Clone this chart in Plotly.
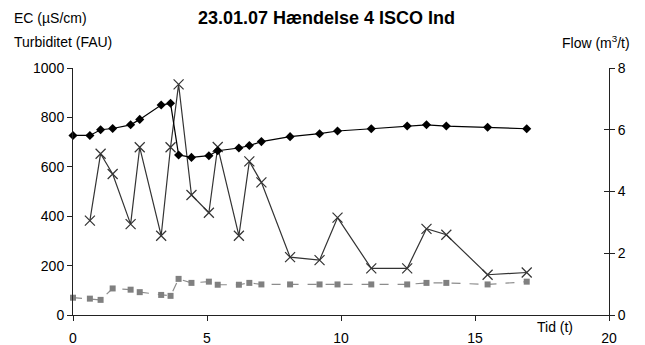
import plotly.graph_objects as go

# Tid (t)
tid = [0, 0.63, 1.03, 1.48, 2.15, 2.49, 3.29, 3.64, 3.94, 4.42, 5.07, 5.4,
       6.19, 6.58, 7.03, 8.1, 9.2, 9.87, 11.13, 12.47, 13.19, 13.93, 15.47, 16.93]
# EC (uS/cm)
ec = [727, 727, 750, 755, 770, 792, 850, 857, 648, 638, 645, 665,
      676, 686, 702, 722, 734, 745, 754, 765, 770, 765, 760, 754]
# Turbiditet (FAU), starts at second time point
turb_tid = tid[1:]
turb = [382, 653, 571, 368, 679, 321, 679, 934, 486, 414, 680,
        321, 622, 537, 234, 222, 394, 189, 189, 349, 325, 163, 172]
# Flow (m3/t)
flow = [0.56, 0.53, 0.49, 0.86, 0.82, 0.74, 0.65, 0.62, 1.17, 1.04, 1.08, 0.98,
        0.98, 1.04, 0.99, 0.99, 0.99, 0.99, 0.99, 0.99, 1.04, 1.04, 0.99, 1.08]

FONT = "Liberation Sans, Arial, sans-serif"

fig = go.Figure()

fig.add_trace(go.Scatter(x=tid, y=flow, yaxis="y2", mode="lines+markers",
                         line=dict(color="#8c8c8c", width=1.2, dash="dash"),
                         marker=dict(symbol="square", size=6, color="#808080"),
                         cliponaxis=False, name="Flow"))
fig.add_trace(go.Scatter(x=turb_tid, y=turb, mode="lines+markers",
                         line=dict(color="#333333", width=1.2),
                         marker=dict(symbol="x-thin-open", size=10,
                                     line=dict(color="#333333", width=1.2)),
                         cliponaxis=False, name="Turbiditet"))
fig.add_trace(go.Scatter(x=tid, y=ec, mode="lines+markers",
                         line=dict(color="#000000", width=1.2),
                         marker=dict(symbol="diamond", size=7, color="#000000"),
                         cliponaxis=False, name="EC"))

# empty trace so the inside-tick copy of the right axis is drawn
fig.add_trace(go.Scatter(x=[None], y=[None], yaxis="y3", showlegend=False))

def ann(text, x, y, xanchor="center", size=14, bold=False):
    if bold:
        text = "<b>" + text + "</b>"
    fig.add_annotation(text=text, x=x, y=y, xref="paper", yref="paper",
                       xanchor=xanchor, yanchor="middle", showarrow=False,
                       font=dict(family=FONT, size=size, color="black"))

ann("23.01.07 Hændelse 4 ISCO Ind", 0.4726, 1.2036, size=18, bold=True)
ann("EC (µS/cm)", -0.1132, 1.2036, xanchor="left")
ann("Turbiditet (FAU)", -0.1132, 1.1065, xanchor="left")
ann("Flow (m<sup>3</sup>/t)", 1.0435, 1.1065, xanchor="right")
ann("Tid (t)", 0.90, -0.047)

# page body has an 8px margin, so the figure is a bit smaller than the window
fig.update_layout(
    width=637, height=337,
    margin=dict(l=65, r=36, t=60, b=30),
    paper_bgcolor="white", plot_bgcolor="white",
    showlegend=False,
    font=dict(family=FONT, size=14, color="black"),
    xaxis=dict(range=[0, 20], tickvals=[0, 5, 10, 15, 20], showgrid=False,
               zeroline=False, showline=True, linecolor="#222", linewidth=1,
               ticks="outside", ticklen=5, tickcolor="#222",
               ticklabelstandoff=5, automargin=False),
    yaxis=dict(range=[0, 1000], tickvals=[0, 200, 400, 600, 800, 1000],
               showgrid=False, zeroline=False, showline=True, linecolor="#222",
               linewidth=1, ticks="outside", ticklen=5, tickcolor="#222",
               automargin=False),
    yaxis2=dict(range=[0, 8], tickvals=[0, 2, 4, 6, 8], overlaying="y",
                side="right", showgrid=False, zeroline=False, showline=True,
                linecolor="#222", linewidth=1, ticks="outside", ticklen=5,
                tickcolor="#222", automargin=False),
    yaxis3=dict(range=[0, 8], tickvals=[0, 2, 4, 6, 8], overlaying="y",
                side="right", showgrid=False, zeroline=False, showline=False,
                ticks="inside", ticklen=5, tickcolor="#222",
                showticklabels=False, automargin=False),
)

fig.write_html("out.html")
